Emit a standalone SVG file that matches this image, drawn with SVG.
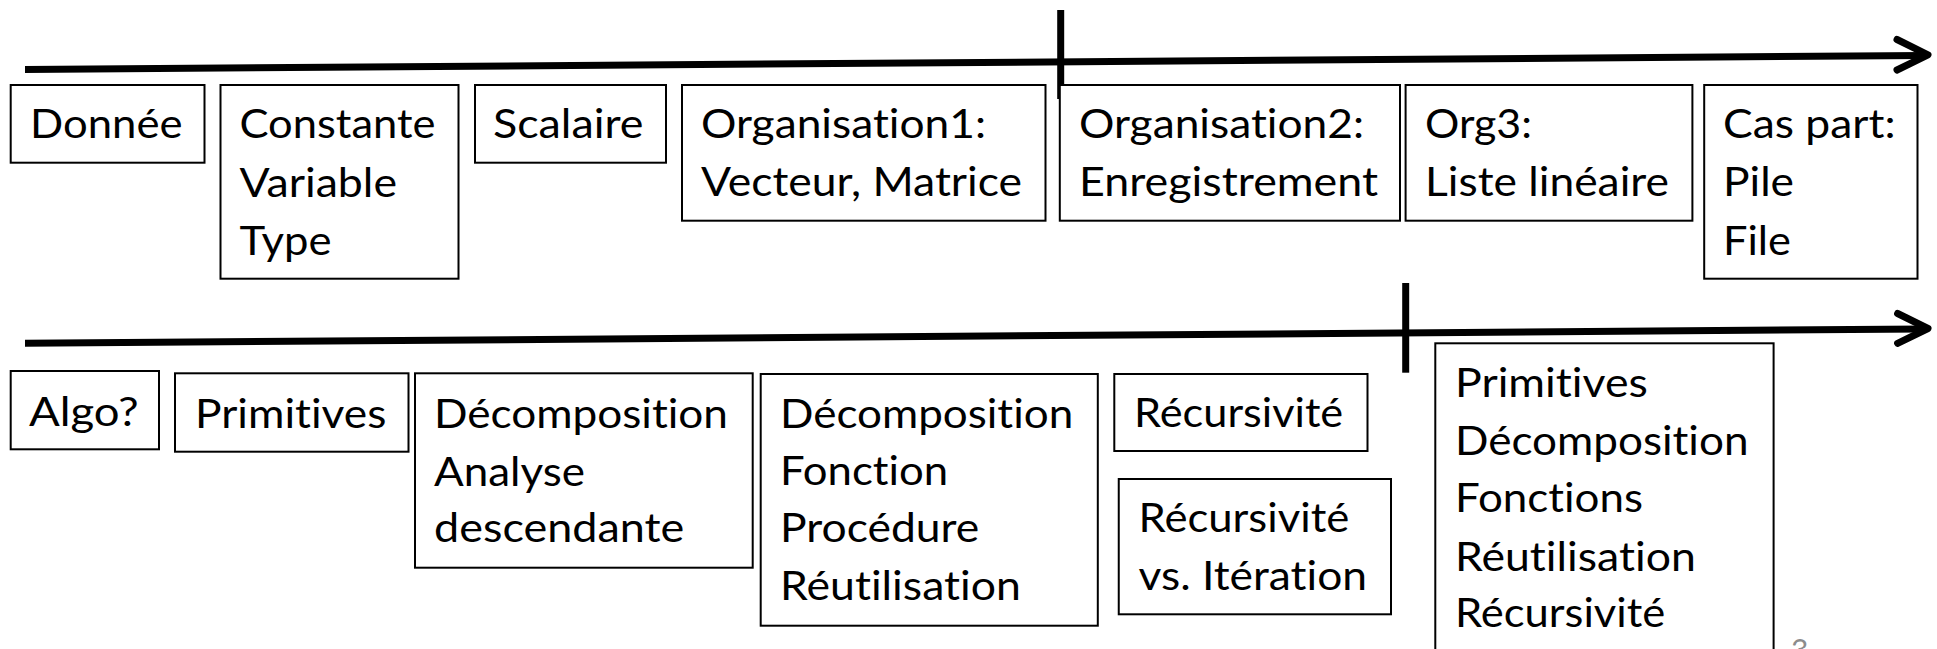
<svg xmlns="http://www.w3.org/2000/svg" width="1937" height="649" viewBox="0 0 1937 649">
  <style>
    .box { fill: #fff; stroke: #000; stroke-width: 2; }
    .t { font-family: Lato, "Open Sans", sans-serif; font-size: 41.5px; fill: #000; font-variant-ligatures: none; font-feature-settings: "liga" 0, "clig" 0; }
    .axis { fill: none; stroke: #000; stroke-width: 7; }
    .head { fill: none; stroke: #000; stroke-width: 7; stroke-linecap: round; stroke-linejoin: round; }
    .num { font-family: Lato, "Open Sans", sans-serif; font-size: 30px; fill: #8c8c8c; }
  </style>
  <rect width="1937" height="649" fill="#fff"/>

  <!-- timeline axes with their dividers -->
  <g id="connectors">
    <line class="axis" x1="25" y1="69.5" x2="1924" y2="55.5"/>
    <polyline class="head" points="1897,39.5 1928,54.8 1897,70"/>
    <line class="axis" x1="1060.7" y1="10" x2="1060.7" y2="99"/>
    <line class="axis" x1="25" y1="343.3" x2="1924" y2="329"/>
    <polyline class="head" points="1897.6,313.5 1928,328.5 1897.6,343.3"/>
    <line class="axis" x1="1405.7" y1="283" x2="1405.7" y2="372.7"/>
  </g>

  <!-- data-structures row -->
  <g id="n-donnee">
    <rect class="box" x="10.7" y="85" width="193.8" height="77.7"/>
    <text class="t" x="30" y="138" textLength="152.5" lengthAdjust="spacingAndGlyphs">Donnée</text>
  </g>
  <g id="n-constante">
    <rect class="box" x="220.5" y="85" width="238" height="193.7"/>
    <text class="t" x="239.5" y="138" textLength="196" lengthAdjust="spacingAndGlyphs">Constante</text>
    <text class="t" x="239.5" y="196.7" textLength="157.5" lengthAdjust="spacingAndGlyphs">Variable</text>
    <text class="t" x="239.5" y="254.5" textLength="92" lengthAdjust="spacingAndGlyphs">Type</text>
  </g>
  <g id="n-scalaire">
    <rect class="box" x="475" y="85" width="191" height="77.7"/>
    <text class="t" x="493" y="138" textLength="150.5" lengthAdjust="spacingAndGlyphs">Scalaire</text>
  </g>
  <g id="n-org1">
    <rect class="box" x="682" y="85" width="363.5" height="135.7"/>
    <text class="t" x="701" y="137.7" textLength="285" lengthAdjust="spacingAndGlyphs">Organisation1:</text>
    <text class="t" x="701" y="196" textLength="321" lengthAdjust="spacingAndGlyphs">Vecteur, Matrice</text>
  </g>
  <g id="n-org2">
    <rect class="box" x="1059.8" y="85" width="340.2" height="135.7"/>
    <text class="t" x="1079" y="137.7" textLength="285" lengthAdjust="spacingAndGlyphs">Organisation2:</text>
    <text class="t" x="1079" y="196" textLength="299" lengthAdjust="spacingAndGlyphs">Enregistrement</text>
  </g>
  <g id="n-org3">
    <rect class="box" x="1405.6" y="85" width="286.8" height="135.7"/>
    <text class="t" x="1425" y="137.7" textLength="107" lengthAdjust="spacingAndGlyphs">Org3:</text>
    <text class="t" x="1425" y="196" textLength="244" lengthAdjust="spacingAndGlyphs">Liste linéaire</text>
  </g>
  <g id="n-caspart">
    <rect class="box" x="1704.2" y="85" width="213.3" height="193.7"/>
    <text class="t" x="1723" y="137.7" textLength="172.5" lengthAdjust="spacingAndGlyphs">Cas part:</text>
    <text class="t" x="1723" y="196" textLength="71" lengthAdjust="spacingAndGlyphs">Pile</text>
    <text class="t" x="1723" y="254.5" textLength="68" lengthAdjust="spacingAndGlyphs">File</text>
  </g>

  <!-- algorithms row -->
  <g id="n-algo">
    <rect class="box" x="10.7" y="371" width="148.3" height="78.3"/>
    <text class="t" x="29" y="426" textLength="109.6" lengthAdjust="spacingAndGlyphs">Algo?</text>
  </g>
  <g id="n-primitives">
    <rect class="box" x="175" y="373.3" width="233.5" height="78.4"/>
    <text class="t" x="195" y="427.7" textLength="191.4" lengthAdjust="spacingAndGlyphs">Primitives</text>
  </g>
  <g id="n-decomp1">
    <rect class="box" x="415" y="373.3" width="337.7" height="194.4"/>
    <text class="t" x="434" y="427.7" textLength="294" lengthAdjust="spacingAndGlyphs">Décomposition</text>
    <text class="t" x="434" y="485.7" textLength="151" lengthAdjust="spacingAndGlyphs">Analyse</text>
    <text class="t" x="434" y="541.7" textLength="250.3" lengthAdjust="spacingAndGlyphs">descendante</text>
  </g>
  <g id="n-decomp2">
    <rect class="box" x="760.7" y="374" width="337.1" height="251.7"/>
    <text class="t" x="780" y="427.7" textLength="293.2" lengthAdjust="spacingAndGlyphs">Décomposition</text>
    <text class="t" x="780" y="485" textLength="168.2" lengthAdjust="spacingAndGlyphs">Fonction</text>
    <text class="t" x="780" y="541.7" textLength="199.3" lengthAdjust="spacingAndGlyphs">Procédure</text>
    <text class="t" x="780" y="600" textLength="240.9" lengthAdjust="spacingAndGlyphs">Réutilisation</text>
  </g>
  <g id="n-recursivite">
    <rect class="box" x="1114.3" y="374" width="253.2" height="77"/>
    <text class="t" x="1134" y="426.7" textLength="209.2" lengthAdjust="spacingAndGlyphs">Récursivité</text>
  </g>
  <g id="n-rec-vs-iter">
    <rect class="box" x="1118.75" y="479" width="272.25" height="135.3"/>
    <text class="t" x="1138.5" y="531.7" textLength="210.8" lengthAdjust="spacingAndGlyphs">Récursivité</text>
    <text class="t" x="1138.5" y="590" textLength="228.6" lengthAdjust="spacingAndGlyphs">vs. Itération</text>
  </g>
  <g id="n-synthese">
    <rect class="box" x="1435.3" y="343.3" width="338.3" height="330"/>
    <text class="t" x="1455" y="397.3" textLength="192.8" lengthAdjust="spacingAndGlyphs">Primitives</text>
    <text class="t" x="1455" y="455" textLength="293.5" lengthAdjust="spacingAndGlyphs">Décomposition</text>
    <text class="t" x="1455" y="511.7" textLength="188" lengthAdjust="spacingAndGlyphs">Fonctions</text>
    <text class="t" x="1455" y="570.7" textLength="240.8" lengthAdjust="spacingAndGlyphs">Réutilisation</text>
    <text class="t" x="1455" y="626.7" textLength="210.2" lengthAdjust="spacingAndGlyphs">Récursivité</text>
  </g>

  <!-- slide number -->
  <text class="num" x="1791" y="661">3</text>
</svg>
